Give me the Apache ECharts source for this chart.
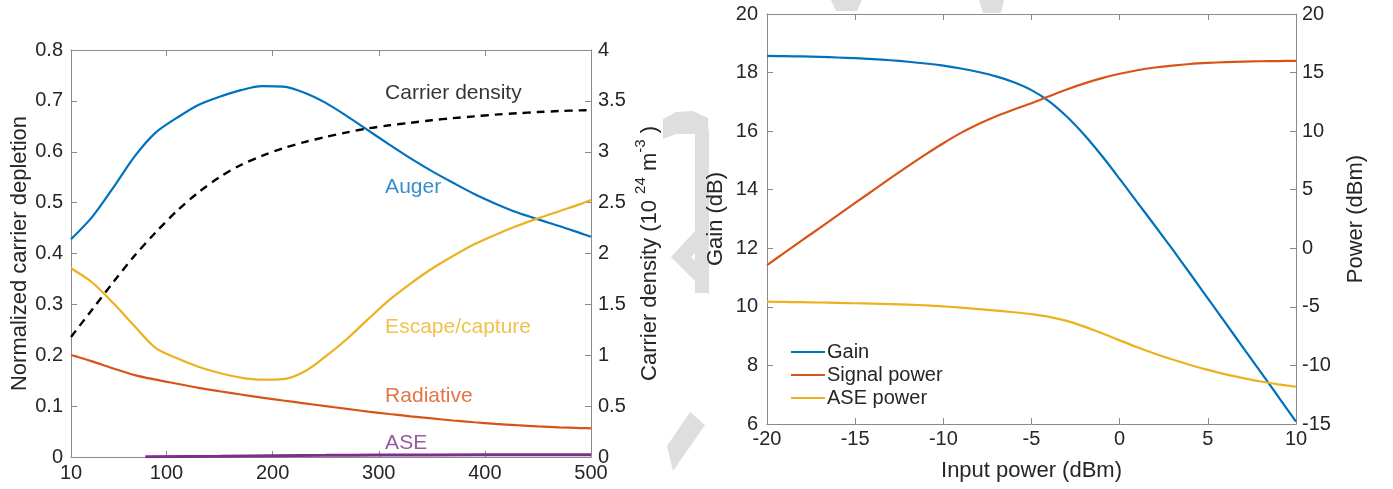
<!DOCTYPE html>
<html>
<head>
<meta charset="utf-8">
<script src="https://cdn.jsdelivr.net/npm/echarts@6/dist/echarts.min.js"></script>
<style>
  html, body { margin: 0; padding: 0; background: #ffffff; }
  #chart { width: 1393px; height: 489px; }
</style>
</head>
<body>
<div id="chart"></div>
<script>
// ---- Left panel: carrier depletion channels ----
const depletionX    = [10, 30, 50, 70, 90, 110, 130, 150, 170, 190, 210, 230, 250, 270, 290, 310, 330, 350, 370, 390, 410, 430, 450, 470, 490, 500];
const augerVals     = [0.428, 0.472, 0.530, 0.591, 0.638, 0.667, 0.692, 0.708, 0.721, 0.729, 0.728, 0.716, 0.696, 0.670, 0.642, 0.614, 0.587, 0.562, 0.539, 0.517, 0.498, 0.481, 0.467, 0.454, 0.440, 0.433];
const escapeVals    = [0.371, 0.343, 0.302, 0.257, 0.214, 0.194, 0.1775, 0.165, 0.156, 0.152, 0.153, 0.168, 0.198, 0.232, 0.271, 0.309, 0.341, 0.370, 0.395, 0.418, 0.437, 0.454, 0.469, 0.483, 0.497, 0.505];
const radiativeVals = [0.2005, 0.188, 0.174, 0.161, 0.152, 0.144, 0.136, 0.1292, 0.1228, 0.1167, 0.111, 0.1055, 0.100, 0.0945, 0.0893, 0.0845, 0.080, 0.0758, 0.0718, 0.0683, 0.0652, 0.0625, 0.0602, 0.0583, 0.0569, 0.0564];
const carrierVals   = [1.18, 1.45, 1.72, 1.98, 2.21, 2.42, 2.60, 2.75, 2.87, 2.96, 3.035, 3.095, 3.145, 3.19, 3.23, 3.26, 3.285, 3.31, 3.33, 3.348, 3.365, 3.378, 3.39, 3.40, 3.407, 3.41];
const aseX          = [80, 150, 200, 250, 300, 400, 500];
const aseVals       = [0.0005, 0.0015, 0.0025, 0.0032, 0.004, 0.0042, 0.0042];
const leftXTicks    = [10, 100, 200, 300, 400, 500];

// ---- Right panel: amplifier response vs. input power ----
const inputPower    = [-20, -19, -18, -17, -16, -15, -14, -13, -12, -11, -10, -9, -8, -7, -6, -5, -4, -3, -2, -1, 0, 1, 2, 3, 4, 5, 6, 7, 8, 9, 10];
const gainVals      = [18.57, 18.56, 18.55, 18.535, 18.515, 18.49, 18.46, 18.42, 18.37, 18.31, 18.235, 18.14, 18.02, 17.87, 17.67, 17.40, 17.02, 16.50, 15.87, 15.15, 14.37, 13.57, 12.77, 11.96, 11.13, 10.29, 9.45, 8.61, 7.77, 6.93, 6.08];
const signalVals    = [-1.43, -0.37, 0.69, 1.75, 2.81, 3.87, 4.93, 5.99, 7.02, 8.02, 8.97, 9.85, 10.61, 11.27, 11.85, 12.38, 12.98, 13.56, 14.08, 14.53, 14.90, 15.20, 15.43, 15.60, 15.73, 15.82, 15.89, 15.935, 15.965, 15.985, 16.00];
const asePowerVals  = [-4.56, -4.58, -4.60, -4.63, -4.66, -4.69, -4.72, -4.76, -4.81, -4.88, -4.96, -5.07, -5.19, -5.32, -5.46, -5.62, -5.85, -6.20, -6.69, -7.26, -7.86, -8.45, -9.00, -9.50, -9.96, -10.38, -10.76, -11.08, -11.37, -11.61, -11.82];

const FONT = 'Liberation Sans, Arial, Helvetica, sans-serif';
const C = { blue: '#0072BD', orange: '#D95319', yellow: '#EDB120', purple: '#7E2F8E', black: '#000000' };
const AXIS_GREY = '#8a8a8a';
const TEXT = '#262626';
const MARK_GREY = '#dedede';

const pairs = (xs, ys) => xs.map((x, i) => [x, ys[i]]);

// in-plot captions, anchored in data units of the left panel
const captions = [
  { text: 'Carrier density', at: [306, 0.715], color: C.black },
  { text: 'Auger',           at: [306, 0.531], color: C.blue },
  { text: 'Escape/capture',  at: [306, 0.256], color: C.yellow },
  { text: 'Radiative',       at: [306, 0.120], color: C.orange },
  { text: 'ASE',             at: [306, 0.028], color: C.purple }
];

function frameAxis(extra) {
  return Object.assign({
    type: 'value',
    axisLine: { show: true, onZero: false, lineStyle: { color: AXIS_GREY, width: 1 } },
    axisTick: { show: true, inside: true, length: 6, lineStyle: { color: AXIS_GREY } },
    axisLabel: { show: true, color: TEXT, fontSize: 20, fontFamily: FONT },
    splitLine: { show: false },
    nameTextStyle: { color: TEXT, fontSize: 22, fontFamily: FONT }
  }, extra);
}

function lineSeries(name, xi, yi, data, color, extra) {
  return Object.assign({
    name, type: 'line', xAxisIndex: xi, yAxisIndex: yi,
    data, smooth: 0.3, showSymbol: false, symbol: 'none',
    lineStyle: { color, width: 2.2 }, itemStyle: { color },
    z: 3
  }, extra || {});
}

// faint background emblem sitting between the two panels
const emblem = [
  { type: 'polygon', shape: { points: [[663, 119], [676, 112], [693, 111], [708, 118], [709, 141], [694, 134], [676, 134], [663, 139]] } },
  { type: 'rect', shape: { x: 695, y: 130, width: 14, height: 163 } },
  { type: 'polygon', shape: { points: [[709, 216], [671, 257], [709, 295], [709, 274], [691, 257], [709, 238]] } },
  { type: 'polygon', shape: { points: [[667, 446], [690, 412], [705, 425], [673, 471]] } },
  { type: 'polygon', shape: { points: [[831, 0], [862, 0], [857, 11], [836, 11]] } },
  { type: 'polygon', shape: { points: [[979, 0], [1004, 0], [1001, 13], [983, 13]] } }
].map(g => Object.assign(g, { style: { fill: MARK_GREY }, z: -10, silent: true }));

const option = {
  animation: false,
  backgroundColor: '#ffffff',
  textStyle: { fontFamily: FONT },
  graphic: { elements: emblem },
  grid: [
    { left: 71, top: 50, width: 520, height: 407 },
    { left: 767, top: 14, width: 529, height: 410 }
  ],
  xAxis: [
    frameAxis({ gridIndex: 0, position: 'bottom', min: 10, max: 500,
      axisTick: { show: true, inside: true, length: 6, lineStyle: { color: AXIS_GREY }, customValues: leftXTicks },
      axisLabel: { show: true, color: TEXT, fontSize: 20, fontFamily: FONT, margin: 6, customValues: leftXTicks } }),
    frameAxis({ gridIndex: 0, position: 'top', min: 10, max: 500,
      axisTick: { show: true, inside: true, length: 6, lineStyle: { color: AXIS_GREY }, customValues: leftXTicks.slice(1) },
      axisLabel: { show: false } }),
    frameAxis({ gridIndex: 1, position: 'bottom', min: -20, max: 10, interval: 5,
      name: 'Input power (dBm)', nameLocation: 'middle', nameGap: 36,
      axisLabel: { show: true, color: TEXT, fontSize: 20, fontFamily: FONT, margin: 5 } }),
    frameAxis({ gridIndex: 1, position: 'top', min: -20, max: 10, interval: 5,
      axisLabel: { show: false } })
  ],
  yAxis: [
    frameAxis({ gridIndex: 0, position: 'left', min: 0, max: 0.8, interval: 0.1,
      name: 'Normalized carrier depletion', nameLocation: 'middle', nameGap: 38,
      axisLabel: { show: true, color: TEXT, fontSize: 20, fontFamily: FONT, margin: 8 } }),
    frameAxis({ gridIndex: 0, position: 'right', min: 0, max: 4, interval: 0.5,
      name: '{n|Carrier density (10 }{s|24}{n| m}{s|-3}{n| )}',
      nameLocation: 'middle', nameGap: 42,
      nameTextStyle: {
        color: TEXT, fontFamily: FONT,
        rich: {
          n: { fontSize: 22, lineHeight: 28, color: TEXT, fontFamily: FONT, verticalAlign: 'bottom' },
          s: { fontSize: 15, lineHeight: 16, color: TEXT, fontFamily: FONT, verticalAlign: 'top' }
        }
      },
      axisLabel: { show: true, color: TEXT, fontSize: 20, fontFamily: FONT, margin: 7 } }),
    frameAxis({ gridIndex: 1, position: 'left', min: 6, max: 20, interval: 2,
      name: 'Gain (dB)', nameLocation: 'middle', nameGap: 40,
      axisLabel: { show: true, color: TEXT, fontSize: 20, fontFamily: FONT, margin: 9 } }),
    frameAxis({ gridIndex: 1, position: 'right', min: -15, max: 20, interval: 5,
      name: 'Power (dBm)', nameLocation: 'middle', nameGap: 49,
      axisLabel: { show: true, color: TEXT, fontSize: 20, fontFamily: FONT, margin: 6 } })
  ],
  legend: {
    orient: 'vertical',
    left: 786, top: 337,
    icon: 'rect',
    itemWidth: 34, itemHeight: 2, itemGap: 3,
    data: ['Gain', 'Signal power', 'ASE power'],
    textStyle: { color: TEXT, fontSize: 20, fontFamily: FONT, padding: [0, 0, 0, -3] },
    backgroundColor: 'rgba(0,0,0,0)'
  },
  series: [
    lineSeries('Auger', 0, 0, pairs(depletionX, augerVals), C.blue),
    lineSeries('Escape/capture', 0, 0, pairs(depletionX, escapeVals), C.yellow),
    lineSeries('Radiative', 0, 0, pairs(depletionX, radiativeVals), C.orange),
    lineSeries('ASE', 0, 0, pairs(aseX, aseVals), C.purple, { lineStyle: { color: C.purple, width: 3 } }),
    lineSeries('Carrier density', 0, 1, pairs(depletionX, carrierVals), C.black,
      { lineStyle: { color: C.black, width: 2.4, type: [8, 6] }, z: 4 }),
    {
      name: 'captions', type: 'scatter', xAxisIndex: 0, yAxisIndex: 0,
      symbolSize: 0, silent: true, z: 5,
      data: captions.map(c => ({
        value: c.at,
        label: { show: true, position: 'right', distance: 0, formatter: c.text,
                 color: c.color, fontSize: 21, fontFamily: FONT }
      }))
    },
    lineSeries('Gain', 2, 2, pairs(inputPower, gainVals), C.blue),
    lineSeries('Signal power', 2, 3, pairs(inputPower, signalVals), C.orange),
    lineSeries('ASE power', 2, 3, pairs(inputPower, asePowerVals), C.yellow)
  ]
};

const chart = echarts.init(document.getElementById('chart'), null, { renderer: 'canvas' });
chart.setOption(option);
</script>
</body>
</html>
